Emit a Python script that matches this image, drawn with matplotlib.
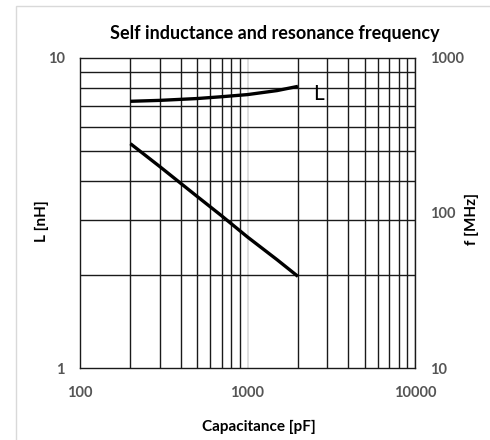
import matplotlib
matplotlib.use("Agg")
import matplotlib.pyplot as plt
from matplotlib.patches import Rectangle
from matplotlib.ticker import FixedLocator, NullFormatter, NullLocator

# Data
cap_pf = [200, 300, 500, 700, 1000, 1500, 2000]
inductance_nh = [7.25, 7.3, 7.4, 7.5, 7.62, 7.85, 8.1]
freq_mhz = [280, 199, 128, 96, 70, 50, 39]

x_ticks = [100, 1000, 10000]
x_ticklabels = ["100", "1000", "10000"]
l_ticks = [1, 10]
l_ticklabels = ["1", "10"]
f_ticks = [10, 100, 1000]
f_ticklabels = ["10", "100", "1000"]

title = "Self inductance and resonance frequency"
xlabel = "Capacitance [pF]"
ylabel_left = "L [nH]"
ylabel_right = "f [MHz]"

FONT = ["Lato", "DejaVu Sans"]
plt.rcParams['font.family'] = FONT

fig = plt.figure(figsize=(4.9, 4.4), dpi=100)
fig.patch.set_facecolor("white")
# chart-area border
fig.patches.append(Rectangle((16/490, -0.1), 1.2, 1 - 6/440 + 0.1, transform=fig.transFigure,
                             fill=False, edgecolor="#d9d9d9", linewidth=1.0))

ax = fig.add_axes([80/490, 1 - 368/440, (415 - 80)/490, (368 - 58)/440])
ax.set_xscale("log")
ax.set_yscale("log")
ax.set_xlim(100, 10000)
ax.set_ylim(1, 10)

# grid
ax.xaxis.set_major_locator(FixedLocator(x_ticks))
ax.yaxis.set_major_locator(FixedLocator(l_ticks))
xminor = [m * d for d in (100, 1000) for m in range(2, 10)]
yminor = list(range(2, 10))
ax.xaxis.set_minor_locator(FixedLocator(xminor))
ax.yaxis.set_minor_locator(FixedLocator(yminor))
ax.xaxis.set_minor_formatter(NullFormatter())
ax.yaxis.set_minor_formatter(NullFormatter())
ax.grid(which="minor", color="#1a1a1a", linewidth=1.0)
ax.grid(which="major", axis="x", color="#d9d9d9", linewidth=1.2)
ax.set_axisbelow(True)

ax.set_xticks(x_ticks)
ax.set_xticklabels(x_ticklabels)
ax.set_yticks(l_ticks)
ax.set_yticklabels(l_ticklabels)
ax.tick_params(which="both", length=0)
ax.tick_params(axis="x", pad=13, labelsize=10.5, labelcolor="#555555")
ax.tick_params(axis="y", pad=11, labelsize=10.5, labelcolor="#555555")
for lab in ax.get_xticklabels() + ax.get_yticklabels():
    lab.set_fontweight("bold")
for s in ax.spines.values():
    s.set_color("#1a1a1a")
    s.set_linewidth(1.0)

ax.plot(cap_pf, inductance_nh, color="black", linewidth=2.4, solid_capstyle="butt", zorder=5)
ax.text(2470, 7.65, "L", fontsize=15, va="center", ha="left")

ax2 = ax.twinx()
ax2.set_yscale("log")
ax2.set_ylim(10, 1000)
ax2.yaxis.set_major_locator(FixedLocator(f_ticks))
ax2.yaxis.set_minor_locator(NullLocator())
ax2.set_yticklabels(f_ticklabels)
ax2.tick_params(which="both", length=0, pad=11, labelsize=10.5, labelcolor="#555555")
for lab in ax2.get_yticklabels():
    lab.set_fontweight("bold")
for s in ax2.spines.values():
    s.set_visible(False)
ax2.plot(cap_pf, freq_mhz, color="black", linewidth=2.4, solid_capstyle="butt", zorder=5)

ax.set_xlabel(xlabel, fontsize=11, fontweight="bold")
ax.xaxis.set_label_coords((259 - 80) / 335, (368 - 420) / 310)
ax.set_ylabel(ylabel_left, fontsize=11, fontweight="bold", va="center")
ax.yaxis.set_label_coords((42 - 80) / 335, (368 - 221) / 310)
ax2.set_ylabel(ylabel_right, fontsize=11, fontweight="bold", va="center")
ax2.yaxis.set_label_coords((472 - 80) / 335, (368 - 219) / 310)

fig.text(275/490, 1 - 33/440, title, fontsize=13, fontweight="bold", ha="center", va="center")

fig.savefig("out.png", dpi=100)
